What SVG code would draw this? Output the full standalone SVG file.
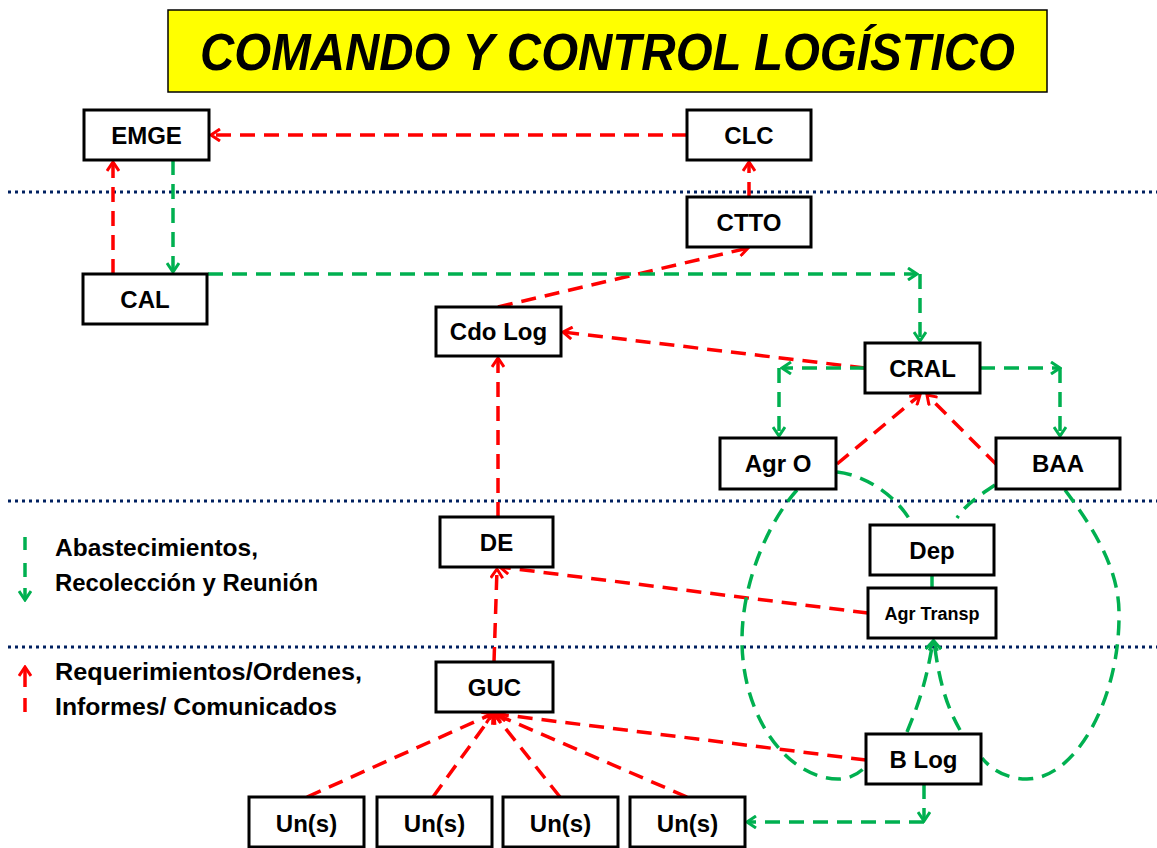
<svg xmlns="http://www.w3.org/2000/svg" width="1157" height="848" viewBox="0 0 1157 848">
<style>
.node rect{fill:#fff;stroke:#000;stroke-width:3}
.node text{font-family:"Liberation Sans",Arial,sans-serif;font-weight:bold;font-size:24px;text-anchor:middle;fill:#000}
.sep{stroke:#002060;stroke-width:3;stroke-dasharray:3 4;fill:none}
.r{stroke:#ff0000;stroke-width:3.5;stroke-dasharray:15 9;fill:none}
.g{stroke:#00b050;stroke-width:3.5;stroke-dasharray:15 9;fill:none}
.rm{marker-end:url(#ar)}
.gm{marker-end:url(#ag)}
.leg{font-family:"Liberation Sans",Arial,sans-serif;font-weight:bold;font-size:24px;fill:#000}
</style>
<defs>
<marker id="ar" viewBox="0 0 14 14" refX="12" refY="7" markerWidth="14" markerHeight="14" markerUnits="userSpaceOnUse" orient="auto"><path d="M3,1 L12,7 L3,13" fill="none" stroke="#ff0000" stroke-width="3"/></marker>
<marker id="ag" viewBox="0 0 14 14" refX="12" refY="7" markerWidth="14" markerHeight="14" markerUnits="userSpaceOnUse" orient="auto"><path d="M3,1 L12,7 L3,13" fill="none" stroke="#00b050" stroke-width="3"/></marker>
</defs>
<rect width="1157" height="848" fill="#fff"/>
<g id="title">
<rect x="168" y="10" width="879" height="82" fill="#ffff00" stroke="#000" stroke-width="1.5"/>
<text x="607.5" y="70" font-family="'Liberation Sans',Arial,sans-serif" font-weight="bold" font-style="italic" font-size="52" text-anchor="middle" textLength="815" lengthAdjust="spacingAndGlyphs">COMANDO Y CONTROL LOGÍSTICO</text>
</g>
<g id="separators">
<line class="sep" x1="8" y1="192" x2="1157" y2="192"/>
<line class="sep" x1="8" y1="501" x2="1157" y2="501"/>
<line class="sep" x1="8" y1="647" x2="1157" y2="647"/>
</g>
<g id="connectors">
<path class="r rm" d="M687,135 L211,135"/>
<path class="r rm" d="M113,274 L113,162"/>
<path class="r rm" d="M749,197 L749,162"/>
<path class="r rm" d="M498,307 L748,248"/>
<path class="r rm" d="M865,368 L563,332"/>
<path class="r rm" d="M498,517 L498,358"/>
<path class="r rm" d="M868,613 L500,567"/>
<path class="r rm" d="M494,662 L497,569"/>
<path class="r rm" d="M837,464 L920,395"/>
<path class="r rm" d="M997,465 L927,395"/>
<path class="r rm" d="M307,797 L492,714"/>
<path class="r rm" d="M433,797 L493,714"/>
<path class="r rm" d="M560,797 L494,714"/>
<path class="r rm" d="M687,797 L495,714"/>
<path class="r rm" d="M866,760 L497,714"/>
<path class="g gm" d="M173,160 L173,272"/>
<path class="g gm" d="M208,274 L917,274"/>
<path class="g gm" d="M920,274 L920,341"/>
<path class="g gm" d="M865,368 L782,368"/>
<path class="g gm" d="M779,368 L779,436"/>
<path class="g gm" d="M980,368 L1060,368"/>
<path class="g gm" d="M1060,368 L1060,436"/>
<path class="g gm" d="M924,784 L924,821"/>
<path class="g gm" d="M924,822 L747,822"/>
<path class="g" d="M797,490 C770,520 742,580 742,640 C742,720 790,779 838,779 C850,779 860,773 866,766"/>
<path class="g" d="M1065,490 C1095,530 1119,570 1119,613 C1120,700 1075,779 1027,779 C1005,779 990,768 982,758"/>
<path class="g" d="M837,472 C865,475 895,495 910,520"/>
<path class="g" d="M995,485 C980,495 965,505 957,518"/>
<path class="g gm" d="M907,732 C915,712 925,690 933,641"/>
<path class="g gm" d="M960,730 C950,712 940,690 934,641"/>
<line x1="932" y1="575" x2="932" y2="588" stroke="#00b050" stroke-width="3.5"/>
</g>
<g id="EMGE" class="node"><rect x="84" y="110" width="125" height="50"/><text x="146.5" y="144">EMGE</text></g>
<g id="CLC" class="node"><rect x="687" y="110" width="124" height="50"/><text x="749" y="144">CLC</text></g>
<g id="CTTO" class="node"><rect x="687" y="197" width="124" height="50"/><text x="749" y="231">CTTO</text></g>
<g id="CAL" class="node"><rect x="83" y="274" width="124" height="50"/><text x="145" y="308">CAL</text></g>
<g id="CdoLog" class="node"><rect x="436" y="307" width="125" height="49"/><text x="498.5" y="340">Cdo Log</text></g>
<g id="CRAL" class="node"><rect x="865" y="343" width="115" height="50"/><text x="922.5" y="377">CRAL</text></g>
<g id="AgrO" class="node"><rect x="720" y="438" width="116" height="51"/><text x="778" y="472">Agr O</text></g>
<g id="BAA" class="node"><rect x="996" y="438" width="124" height="51"/><text x="1058" y="472">BAA</text></g>
<g id="DE" class="node"><rect x="440" y="517" width="113" height="50"/><text x="496.5" y="551">DE</text></g>
<g id="Dep" class="node"><rect x="870" y="525" width="124" height="50"/><text x="932" y="559">Dep</text></g>
<g id="AgrTransp" class="node"><rect x="868" y="588" width="128" height="50"/><text x="932" y="620" style="font-size:18px">Agr Transp</text></g>
<g id="GUC" class="node"><rect x="436" y="662" width="117" height="50"/><text x="494.5" y="696">GUC</text></g>
<g id="BLog" class="node"><rect x="866" y="734" width="115" height="50"/><text x="923.5" y="768">B Log</text></g>
<g id="Un1" class="node"><rect x="249" y="797" width="115" height="50"/><text x="306.5" y="832">Un(s)</text></g>
<g id="Un2" class="node"><rect x="377" y="797" width="115" height="50"/><text x="434.5" y="832">Un(s)</text></g>
<g id="Un3" class="node"><rect x="503" y="797" width="115" height="50"/><text x="560.5" y="832">Un(s)</text></g>
<g id="Un4" class="node"><rect x="630" y="797" width="115" height="50"/><text x="687.5" y="832">Un(s)</text></g>
<g id="legend">
<line x1="25" y1="537" x2="25" y2="550" stroke="#00b050" stroke-width="3.5"/>
<line x1="25" y1="563" x2="25" y2="577" stroke="#00b050" stroke-width="3.5"/>
<path d="M25,588 L25,600" stroke="#00b050" stroke-width="3.5" fill="none" marker-end="url(#ag)"/>
<text class="leg" x="55" y="556" textLength="203" lengthAdjust="spacingAndGlyphs">Abastecimientos,</text>
<text class="leg" x="55" y="591" textLength="263" lengthAdjust="spacingAndGlyphs">Recolección y Reunión</text>
<path d="M25,687 L25,667" stroke="#ff0000" stroke-width="3.5" fill="none" marker-end="url(#ar)"/>
<line x1="25" y1="698" x2="25" y2="712" stroke="#ff0000" stroke-width="3.5"/>
<text class="leg" x="55" y="680" textLength="307" lengthAdjust="spacingAndGlyphs">Requerimientos/Ordenes,</text>
<text class="leg" x="55" y="715" textLength="282" lengthAdjust="spacingAndGlyphs">Informes/ Comunicados</text>
</g>
</svg>
